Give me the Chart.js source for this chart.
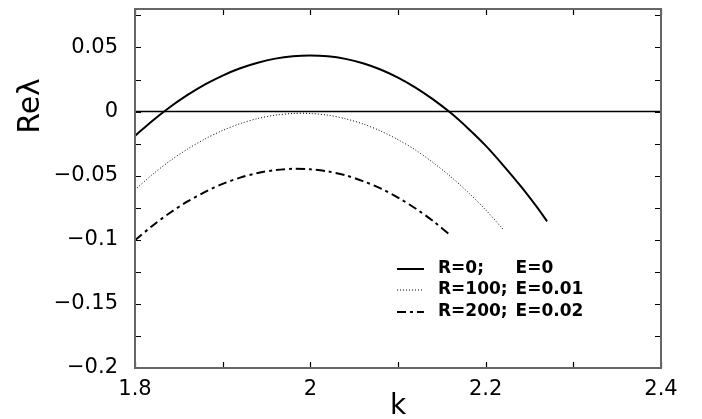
<!DOCTYPE html>
<html>
<head>
<meta charset="utf-8">
<script src="https://cdn.jsdelivr.net/npm/chart.js@4"></script>
<style>
    html, body { margin: 0; padding: 0; background: #ffffff; }
    #wrap { width: 702px; height: 419px; }
</style>
</head>
<body>
<div id="wrap"><canvas id="chart" width="702" height="419"></canvas></div>
<script>
// Data
const kSolid = [1.80, 1.82, 1.84, 1.86, 1.88, 1.90, 1.92, 1.94, 1.96, 1.98, 2.00, 2.02, 2.04,
    2.06, 2.08, 2.10, 2.12, 2.14, 2.16, 2.18, 2.20, 2.22, 2.24, 2.26, 2.27];
const reSolid = [-0.0190, -0.0071, 0.0036, 0.0130, 0.0212, 0.0281, 0.0338, 0.0381, 0.0413, 0.0432,
    0.0438, 0.0431, 0.0411, 0.0377, 0.0328, 0.0265, 0.0187, 0.0095, -0.0010, -0.0132, -0.0266,
    -0.0419, -0.0582, -0.0759, -0.0856];

const kDotted = [1.80, 1.82, 1.84, 1.86, 1.88, 1.90, 1.92, 1.94, 1.96, 1.98, 2.00, 2.02, 2.04,
    2.06, 2.08, 2.10, 2.12, 2.14, 2.16, 2.18, 2.20, 2.22];
const reDotted = [-0.0610, -0.0490, -0.0384, -0.0292, -0.0213, -0.0147, -0.0094, -0.0054, -0.0028,
    -0.0015, -0.0015, -0.0028, -0.0056, -0.0096, -0.0151, -0.0219, -0.0300, -0.0398, -0.0507,
    -0.0630, -0.0767, -0.0918];

const kDashDot = [1.80, 1.82, 1.84, 1.86, 1.88, 1.90, 1.92, 1.94, 1.96, 1.98, 2.00, 2.02, 2.04,
    2.06, 2.08, 2.10, 2.12, 2.14, 2.16];
const reDashDot = [-0.1004, -0.0890, -0.0789, -0.0701, -0.0626, -0.0564, -0.0515, -0.0479, -0.0456,
    -0.0446, -0.0450, -0.0467, -0.0497, -0.0542, -0.0599, -0.0671, -0.0756, -0.0854, -0.0966];

const legendR = ['R=0;', 'R=100;', 'R=200;'];
const legendE = ['E=0', 'E=0.01', 'E=0.02'];

// Axes
const xTickValues = [1.8, 2.0, 2.2, 2.4];
const xTickLabels = ['1.8', '2', '2.2', '2.4'];
const xMinorTicks = [1.9, 2.1, 2.3];
const yTickValues = [-0.2, -0.15, -0.1, -0.05, 0, 0.05];
const yTickLabels = ['\u22120.2', '\u22120.15', '\u22120.1', '\u22120.05', '0', '0.05'];
const yMinorTicks = [-0.175, -0.125, -0.075, -0.025, 0.025, 0.075];

const FONT = '"DejaVu Sans", sans-serif';

function toPoints(xs, ys) {
    return xs.map((x, i) => ({ x: x, y: ys[i] }));
}

// Frame, inward ticks, zero line, titles and legend
const framePlugin = {
    id: 'frame',
    beforeDatasetsDraw(chart) {
        const { ctx, chartArea: a, scales: { y } } = chart;
        const y0 = y.getPixelForValue(0);
        ctx.save();
        ctx.strokeStyle = '#000000';
        ctx.lineWidth = 1.6;
        ctx.beginPath();
        ctx.moveTo(a.left, y0);
        ctx.lineTo(a.right, y0);
        ctx.stroke();
        ctx.restore();
    },
    afterDatasetsDraw(chart) {
        const { ctx, chartArea: a, scales: { x, y } } = chart;
        const len = 6;
        ctx.save();
        // ticks
        ctx.strokeStyle = '#000000';
        ctx.lineWidth = 1.2;
        ctx.beginPath();
        xTickValues.concat(xMinorTicks).forEach(v => {
            const px = Math.round(x.getPixelForValue(v)) + 0.5;
            ctx.moveTo(px, a.bottom);
            ctx.lineTo(px, a.bottom - len);
            ctx.moveTo(px, a.top);
            ctx.lineTo(px, a.top + len);
        });
        yTickValues.concat(yMinorTicks).forEach(v => {
            const py = Math.round(y.getPixelForValue(v)) + 0.5;
            ctx.moveTo(a.left, py);
            ctx.lineTo(a.left + len, py);
            ctx.moveTo(a.right, py);
            ctx.lineTo(a.right - len, py);
        });
        ctx.stroke();
        // frame
        ctx.strokeStyle = '#666666';
        ctx.lineWidth = 2;
        ctx.strokeRect(a.left, a.top, a.right - a.left, a.bottom - a.top);

        // axis titles
        ctx.fillStyle = '#000000';
        ctx.font = '28px ' + FONT;
        ctx.textAlign = 'center';
        ctx.textBaseline = 'alphabetic';
        ctx.fillText('k', (a.left + a.right) / 2, 414);
        ctx.save();
        ctx.translate(31, 106);
        ctx.rotate(-Math.PI / 2);
        ctx.font = '30px ' + FONT;
        ctx.textBaseline = 'middle';
        ctx.fillText('Re\u03bb', 0, 0);
        ctx.restore();

        // legend
        const rows = [269, 290, 312];
        ctx.font = 'bold 17px ' + FONT;
        ctx.textAlign = 'left';
        ctx.textBaseline = 'middle';
        const eOffset = ctx.measureText(legendR[1] + ' ').width;
        chart.data.datasets.forEach((ds, i) => {
            ctx.save();
            ctx.strokeStyle = ds.borderColor;
            ctx.lineWidth = ds.borderWidth;
            ctx.setLineDash(ds.borderDash || []);
            ctx.beginPath();
            ctx.moveTo(397, rows[i]);
            ctx.lineTo(424, rows[i]);
            ctx.stroke();
            ctx.restore();
            ctx.fillText(legendR[i], 438, rows[i]);
            ctx.fillText(legendE[i], 440 + eOffset, rows[i]);
        });
        ctx.restore();
    }
};

new Chart(document.getElementById('chart'), {
    type: 'line',
    data: {
        datasets: [
            {
                label: legendR[0] + ' ' + legendE[0],
                data: toPoints(kSolid, reSolid),
                borderColor: '#000000',
                borderWidth: 2,
                borderDash: []
            },
            {
                label: legendR[1] + ' ' + legendE[1],
                data: toPoints(kDotted, reDotted),
                borderColor: '#000000',
                borderWidth: 1,
                borderDash: [1, 2]
            },
            {
                label: legendR[2] + ' ' + legendE[2],
                data: toPoints(kDashDot, reDashDot),
                borderColor: '#000000',
                borderWidth: 2,
                borderDash: [9, 4, 3, 4]
            }
        ]
    },
    options: {
        responsive: false,
        animation: false,
        events: [],
        layout: { padding: { left: 0, top: 9, right: 41, bottom: 0 } },
        elements: {
            point: { radius: 0 },
            line: { tension: 0.3, fill: false }
        },
        plugins: {
            legend: { display: false },
            tooltip: { enabled: false }
        },
        scales: {
            x: {
                type: 'linear',
                min: 1.8,
                max: 2.4,
                grid: { display: false, drawTicks: false },
                border: { display: false },
                afterBuildTicks: scale => {
                    scale.ticks = xTickValues.map(v => ({ value: v }));
                },
                afterFit: scale => {
                    scale.height = 51;
                    scale.paddingLeft = 0;
                    scale.paddingRight = 0;
                },
                ticks: {
                    color: '#000000',
                    font: { family: FONT, size: 21 },
                    padding: 9,
                    maxRotation: 0,
                    callback: (v, i) => xTickLabels[i]
                }
            },
            y: {
                type: 'linear',
                min: -0.2,
                max: 0.08,
                grid: { display: false, drawTicks: false },
                border: { display: false },
                afterBuildTicks: scale => {
                    scale.ticks = yTickValues.map(v => ({ value: v }));
                },
                afterFit: scale => {
                    scale.width = 135;
                    scale.paddingTop = 0;
                    scale.paddingBottom = 0;
                },
                ticks: {
                    color: '#000000',
                    font: { family: FONT, size: 21 },
                    padding: 17,
                    callback: (v, i) => yTickLabels[i]
                }
            }
        }
    },
    plugins: [framePlugin]
});
</script>
</body>
</html>
